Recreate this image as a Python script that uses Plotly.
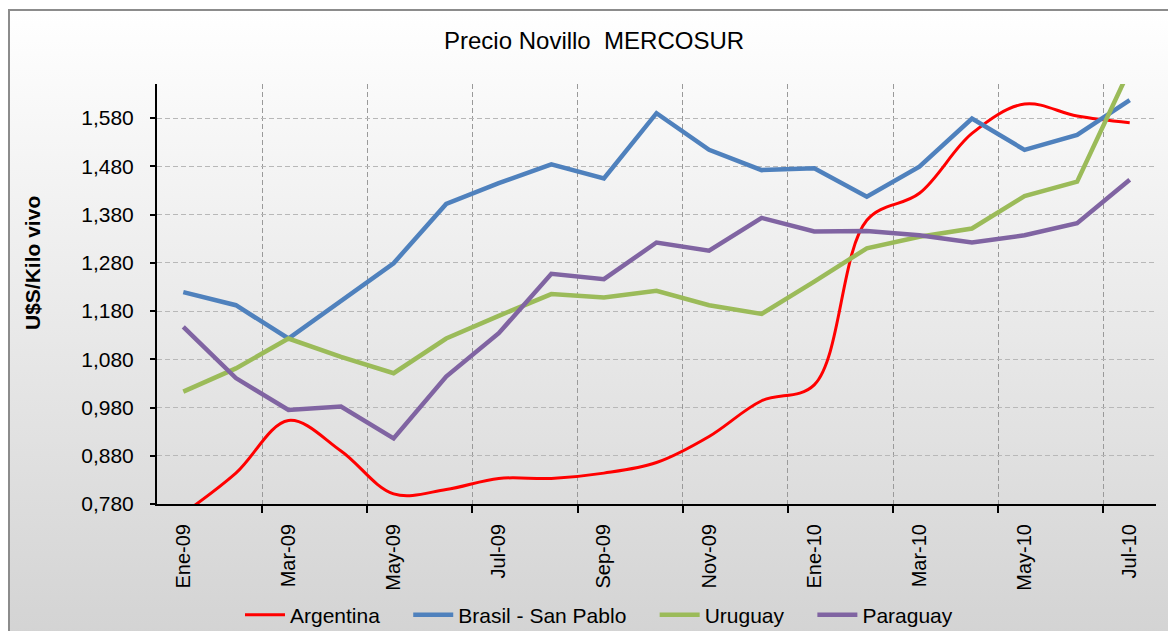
import base64
import plotly.graph_objects as go

# ---------------- data ----------------
months = ["Ene-09", "Feb-09", "Mar-09", "Abr-09", "May-09", "Jun-09", "Jul-09",
          "Ago-09", "Sep-09", "Oct-09", "Nov-09", "Dic-09", "Ene-10", "Feb-10",
          "Mar-10", "Abr-10", "May-10", "Jun-10", "Jul-10"]

argentina = [0.760, 0.844, 0.953, 0.890, 0.801, 0.810, 0.833, 0.833, 0.844, 0.866,
             0.920, 0.994, 1.027, 1.368, 1.424, 1.548, 1.609, 1.584, 1.570]
brasil = [1.219, 1.192, 1.123, 1.201, 1.279, 1.402, 1.445, 1.484, 1.455, 1.590,
          1.514, 1.472, 1.476, 1.417, 1.479, 1.579, 1.514, 1.545, 1.617]
uruguay = [1.013, 1.061, 1.123, 1.085, 1.051, 1.123, 1.170, 1.215, 1.208, 1.222,
           1.192, 1.174, 1.241, 1.310, 1.334, 1.351, 1.418, 1.448, 1.681]
paraguay = [1.147, 1.041, 0.975, 0.982, 0.916, 1.044, 1.134, 1.257, 1.246, 1.322,
            1.305, 1.373, 1.345, 1.346, 1.337, 1.322, 1.337, 1.362, 1.452]

y_ticks = [0.78, 0.88, 0.98, 1.08, 1.18, 1.28, 1.38, 1.48, 1.58]

# ---------------- figure geometry ----------------
OFF = 8                      # page body margin
W, H = 1176 - OFF, 631 - OFF
ML, MT = 157 - OFF, 84 - OFF
MR = W - (1156 - OFF)
MB = H - (504 - OFF)
PW = W - ML - MR
PH = H - MT - MB


def px_x(p):
    """window pixel x -> paper"""
    return (p - OFF - ML) / PW


def px_y(p):
    """window pixel y -> paper"""
    return (H - MB - (p - OFF)) / PH


FONT = "Liberation Sans, Arial, sans-serif"
NB = "\u00a0"
x = list(range(len(months)))

fig = go.Figure()
series = [
    ("Argentina" + NB * 4, argentina, "#FF0000", 3, "spline"),
    ("Brasil - San Pablo" + NB * 4, brasil, "#4F81BD", 4.5, "linear"),
    ("Uruguay" + NB * 4, uruguay, "#9BBB59", 4.5, "linear"),
    ("Paraguay", paraguay, "#8064A2", 4.5, "linear"),
]
for name, vals, color, width, shape in series:
    fig.add_trace(go.Scatter(
        x=x, y=vals, name=name, mode="lines",
        line=dict(color=color, width=width, shape=shape, smoothing=1.0),
    ))

# gradient background via svg data uri
svg = ("<svg xmlns='http://www.w3.org/2000/svg' width='100' height='100' "
       "preserveAspectRatio='none'><defs><linearGradient id='g' x1='0' y1='0' "
       "x2='0' y2='1'><stop offset='0' stop-color='#ffffff'/>"
       "<stop offset='1' stop-color='#d3d3d3'/></linearGradient></defs>"
       "<rect width='100' height='100' fill='url(#g)'/></svg>")
uri = "data:image/svg+xml;base64," + base64.b64encode(svg.encode()).decode()

fig.add_layout_image(
    source=uri, xref="paper", yref="paper",
    x=px_x(8), y=px_y(10), sizex=(1200 - 8) / PW, sizey=(640 - 10) / PH,
    xanchor="left", yanchor="top", sizing="stretch", layer="below",
)

# chart border (left + top visible)
fig.add_shape(type="rect", xref="paper", yref="paper",
              x0=px_x(9), y0=px_y(660), x1=px_x(1200), y1=px_y(10),
              line=dict(color="#8c8c8c", width=2), fillcolor="rgba(0,0,0,0)",
              layer="above")

fig.add_annotation(text="Precio Novillo  MERCOSUR", xref="paper", yref="paper",
                   x=px_x(594), y=px_y(41), xanchor="center", yanchor="middle",
                   showarrow=False, font=dict(family=FONT, size=24, color="#000"))

fig.add_annotation(text="<b>U$S/Kilo vivo</b>", xref="paper", yref="paper",
                   x=px_x(32), y=px_y(263), xanchor="center", yanchor="middle",
                   textangle=-90, showarrow=False,
                   font=dict(family=FONT, size=21, color="#000"))

fig.update_layout(
    width=W, height=H,
    margin=dict(l=ML, r=MR, t=MT, b=MB, autoexpand=False),
    paper_bgcolor="white",
    plot_bgcolor="rgba(0,0,0,0)",
    separators=",.",
    font=dict(family=FONT, size=21, color="#000"),
    showlegend=True,
    legend=dict(orientation="h", x=px_x(240), y=px_y(615), xanchor="left",
                yanchor="middle", font=dict(family=FONT, size=21, color="#000"),
                bgcolor="rgba(0,0,0,0)", itemwidth=40, tracegroupgap=0),
    xaxis=dict(
        range=[-0.5, len(months) - 0.5],
        tickmode="array", tickvals=x[::2], ticktext=months[::2],
        tickangle=-90, tickfont=dict(family=FONT, size=20, color="#000"),
        showgrid=False, ticks="", zeroline=False,
        showline=True, linecolor="#000", linewidth=2,
        ticklabelstandoff=10, automargin=False,
        minor=dict(tickvals=[i + 1.5 for i in range(0, len(months) - 1, 2)],
                   ticks="outside", ticklen=7, tickwidth=2, tickcolor="#000",
                   showgrid=True, gridcolor="#9a9a9a", gridwidth=1,
                   griddash="5px,3px"),
    ),
    yaxis=dict(
        range=[0.78, 1.6505],
        tickmode="array", tickvals=y_ticks, tickformat=".3f",
        tickfont=dict(family=FONT, size=21, color="#000"),
        ticks="outside", ticklen=5, tickwidth=2, tickcolor="#000",
        showgrid=True, gridcolor="#b8b8b8", gridwidth=1, griddash="5px,3px",
        zeroline=False, showline=True, linecolor="#000", linewidth=2,
        ticklabelstandoff=12, automargin=False,
    ),
)

fig.write_html("out.html")
